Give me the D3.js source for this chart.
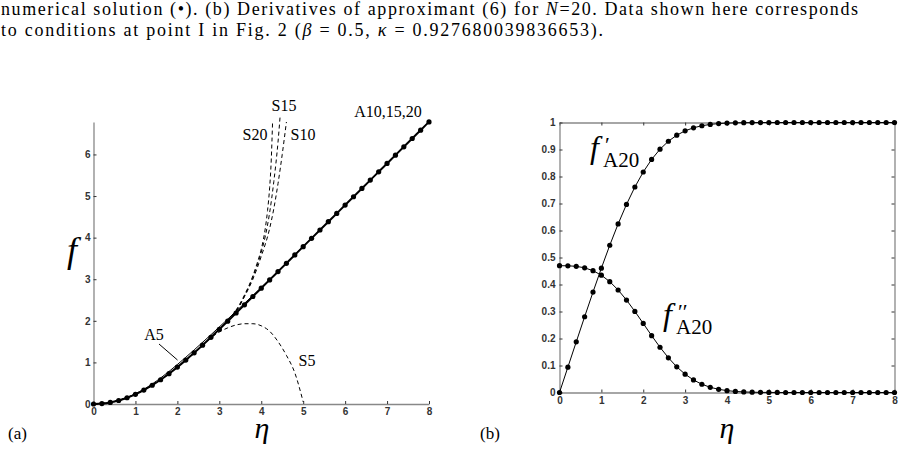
<!DOCTYPE html>
<html>
<head>
<meta charset="utf-8">
<script src="https://cdn.jsdelivr.net/npm/d3@7"></script>
<style>
body{margin:0;background:#fff}
svg{display:block}
.tick text{font-family:"Liberation Sans",Arial,sans-serif;font-weight:bold;font-size:10px;fill:#333}
.serif{font-family:"Liberation Serif","Times New Roman",serif;fill:#000}
</style>
</head>
<body>
<svg id="fig" width="904" height="454"></svg>
<script>
// numerical solution, eta = 0..8 step 0.2
let eta = [0,0.2,0.4,0.6,0.8,1,1.2,1.4,1.6,1.8,2,2.2,2.4,2.6,2.8,3,3.2,3.4,3.6,3.8,4,4.2,4.4,4.6,4.8,5,5.2,5.4,5.6,5.8,6,6.2,6.4,6.6,6.8,7,7.2,7.4,7.6,7.8,8]
let fNum = [0,0.0094,0.0375,0.0844,0.1497,0.233,0.3337,0.4507,0.583,0.7289,0.8868,1.055,1.2315,1.4148,1.6033,1.7956,1.9906,2.1875,2.3856,2.5845,2.7839,2.9834,3.1833,3.3832,3.5831,3.783,3.983,4.183,4.383,4.583,4.783,4.983,5.183,5.383,5.583,5.783,5.983,6.183,6.383,6.583,6.783]
let dfNum = [0,0.0939,0.1876,0.2806,0.372,0.4606,0.5453,0.6244,0.6967,0.7611,0.8167,0.8633,0.9011,0.9306,0.9529,0.9691,0.9804,0.988,0.9929,0.9959,0.9978,0.9988,0.9994,0.9997,0.9999,1,1,1,1,1,1,1,1,1,1,1,1,1,1,1,1]
let ddfNum = [0.4696,0.4693,0.4673,0.4617,0.4512,0.4344,0.4106,0.3797,0.3425,0.3004,0.2557,0.2106,0.1676,0.1286,0.0951,0.0677,0.0464,0.0305,0.0193,0.0118,0.0069,0.0039,0.0021,0.0011,0.0005,0.0003,0.0001,0,0,0,0,0,0,0,0,0,0,0,0,0,0]

// approximant A5
let a5Eta = [0,0.4,0.8,1.2,1.6,2,2.4,2.8,3.2,3.6,4,4.5,5,6,7,8]
let a5F = [0,0.04,0.16,0.355,0.625,0.95,1.3,1.665,2.04,2.42,2.8,3.3,3.79,4.785,5.785,6.785]

// series S5, S10, S15, S20
let s5Eta = [0,0.4,0.8,1.2,1.6,2,2.4,2.8,3,3.2,3.4,3.6,3.8,4,4.2,4.4,4.6,4.8,5]
let s5F = [0,0.037,0.149,0.333,0.58,0.88,1.215,1.59,1.73,1.83,1.9,1.93,1.93,1.88,1.75,1.5,1.17,0.75,0.05]
let s10Eta = [0,0.4,0.8,1.2,1.6,2,2.4,2.8,3,3.2,3.4,3.6,3.8,4,4.2,4.3,4.4,4.5,4.6]
let s10F = [0,0.0375,0.15,0.334,0.583,0.887,1.232,1.605,1.8,2.0,2.22,2.58,3.0,3.55,4.22,4.7,5.3,6.0,6.78]
let s15Eta = [0,0.4,0.8,1.2,1.6,2,2.4,2.8,3,3.2,3.4,3.6,3.8,4,4.1,4.2,4.3,4.4,4.45]
let s15F = [0,0.0375,0.15,0.334,0.583,0.887,1.232,1.605,1.8,2.01,2.24,2.6,3.05,3.65,4.05,4.6,5.35,6.3,6.92]
let s20Eta = [0,0.4,0.8,1.2,1.6,2,2.4,2.8,3,3.2,3.4,3.6,3.8,3.9,4,4.1,4.15,4.2,4.24,4.27]
let s20F = [0,0.0375,0.15,0.334,0.583,0.887,1.232,1.605,1.81,2.02,2.26,2.62,3.08,3.38,3.72,4.25,4.65,5.2,5.9,6.78]

let xTicks = [0,1,2,3,4,5,6,7,8]
let yTicksA = [0,1,2,3,4,5,6]
let yTicksB = [0,0.1,0.2,0.3,0.4,0.5,0.6,0.7,0.8,0.9,1]

let svg = d3.select('#fig')
svg.append('rect').attr('width',904).attr('height',454).attr('fill','#fff')

// caption
let cap1 = svg.append('text').attr('class','serif').attr('x',1).attr('y',15)
  .attr('font-size',18).attr('textLength',857).attr('lengthAdjust','spacing')
cap1.append('tspan').text('numerical solution (\u2022). (b) Derivatives of approximant (6) for ')
cap1.append('tspan').attr('font-style','italic').text('N')
cap1.append('tspan').text('=20. Data shown here corresponds')
let cap2 = svg.append('text').attr('class','serif').attr('x',1).attr('y',36)
  .attr('font-size',18).attr('textLength',602).attr('lengthAdjust','spacing')
cap2.append('tspan').text('to conditions at point I in Fig. 2 (')
cap2.append('tspan').attr('font-style','italic').text('\u03B2')
cap2.append('tspan').text(' = 0.5, ')
cap2.append('tspan').attr('font-style','italic').text('\u03BA')
cap2.append('tspan').text(' = 0.927680039836653).')

function styleAxis(g){
  g.select('.domain').attr('stroke','#888').attr('stroke-width',1.3)
  g.selectAll('.tick line').attr('stroke','#333').attr('stroke-width',1)
}

// ---------- (a)
let xA = d3.scaleLinear().domain([0,8]).range([93.5,429])
let yA = d3.scaleLinear().domain([0,6.78]).range([404,122])

let gA = svg.append('g')
gA.append('g').attr('transform','translate(0,404)')
  .call(d3.axisBottom(xA).tickValues(xTicks).tickSizeInner(-3).tickSizeOuter(0).tickPadding(4).tickFormat(d3.format('d')))
  .call(styleAxis)
gA.append('g').attr('transform','translate(93.5,0)')
  .call(d3.axisLeft(yA).tickValues(yTicksA).tickSizeInner(-3).tickSizeOuter(0).tickPadding(3).tickFormat(d3.format('d')))
  .call(styleAxis)

let lineA = (xs, ys) => d3.line().curve(d3.curveMonotoneX)
  .x((d,i) => xA(xs[i])).y((d,i) => yA(ys[i]))(xs)

let dashed = [[s5Eta,s5F],[s10Eta,s10F],[s15Eta,s15F],[s20Eta,s20F]]
dashed.forEach(s => {
  gA.append('path').attr('d', lineA(s[0], s[1]))
    .attr('fill','none').attr('stroke','#000').attr('stroke-width',1).attr('stroke-dasharray','4,3')
})
gA.append('path').attr('d', lineA(a5Eta, a5F))
  .attr('fill','none').attr('stroke','#000').attr('stroke-width',1)
gA.append('path').attr('d', lineA(eta, fNum))
  .attr('fill','none').attr('stroke','#000').attr('stroke-width',2)
gA.selectAll('.dot').data(eta).enter().append('circle')
  .attr('cx', d => xA(d)).attr('cy', (d,i) => yA(fNum[i])).attr('r',2.6).attr('fill','#000')

let labA = [
  ['S15',284,111],['S20',255,140],['S10',303,140],
  ['A10,15,20',388,117],['A5',154,340],['S5',307,366]
]
labA.forEach(l => {
  gA.append('text').attr('class','serif').attr('font-size',16)
    .attr('x',l[1]).attr('y',l[2]).attr('text-anchor','middle').text(l[0])
})
gA.append('line').attr('x1',159).attr('y1',344).attr('x2',177.5).attr('y2',360)
  .attr('stroke','#000').attr('stroke-width',1)

gA.append('text').attr('class','serif').attr('font-style','italic').attr('font-size',36)
  .attr('x',72).attr('y',262).attr('text-anchor','middle').text('f')
gA.append('text').attr('class','serif').attr('font-style','italic').attr('font-size',30)
  .attr('x',262).attr('y',438).attr('text-anchor','middle').text('\u03B7')
svg.append('text').attr('class','serif').attr('font-size',17).attr('x',8).attr('y',439).text('(a)')

// ---------- (b)
let xB = d3.scaleLinear().domain([0,8]).range([559.5,894.5])
let yB = d3.scaleLinear().domain([0,1]).range([392.5,122.5])

let gB = svg.append('g')
gB.append('g').attr('transform','translate(0,392.5)')
  .call(d3.axisBottom(xB).tickValues(xTicks).tickSizeInner(-3).tickSizeOuter(0).tickPadding(4).tickFormat(d3.format('d')))
  .call(styleAxis)
gB.append('g').attr('transform','translate(0,122.5)')
  .call(d3.axisTop(xB).tickValues(xTicks).tickSizeInner(-3).tickSizeOuter(0).tickFormat(''))
  .call(styleAxis)
gB.append('g').attr('transform','translate(559.5,0)')
  .call(d3.axisLeft(yB).tickValues(yTicksB).tickSizeInner(-3).tickSizeOuter(0).tickPadding(4).tickFormat(d => d3.format('')(+d.toFixed(1))))
  .call(styleAxis)
gB.append('g').attr('transform','translate(894.5,0)')
  .call(d3.axisRight(yB).tickValues(yTicksB).tickSizeInner(-3).tickSizeOuter(0).tickFormat(''))
  .call(styleAxis)

let lineB = ys => d3.line().x((d,i) => xB(eta[i])).y((d,i) => yB(ys[i]))(eta)
;[dfNum, ddfNum].forEach(ys => {
  gB.append('path').attr('d', lineB(ys)).attr('fill','none').attr('stroke','#000').attr('stroke-width',1)
  gB.selectAll(null).data(eta).enter().append('circle')
    .attr('cx', d => xB(d)).attr('cy', (d,i) => yB(ys[i])).attr('r',2.6).attr('fill','#000')
})

// f' / f'' labels: italic f, primes, upright subscript
function derivLabel(x, y, primes){
  gB.append('text').attr('class','serif').attr('font-style','italic').attr('font-size',32)
    .attr('x',x).attr('y',y).text('f')
  gB.append('text').attr('class','serif').attr('font-size',22)
    .attr('x',x+15).attr('y',y-6).text(primes)
  gB.append('text').attr('class','serif').attr('font-size',21)
    .attr('x',x+13).attr('y',y+9).text('A20')
}
derivLabel(590, 158, '\u2032')
derivLabel(663, 325, '\u2032\u2032')

gB.append('text').attr('class','serif').attr('font-style','italic').attr('font-size',30)
  .attr('x',727).attr('y',438).attr('text-anchor','middle').text('\u03B7')
svg.append('text').attr('class','serif').attr('font-size',17).attr('x',480).attr('y',439).text('(b)')
</script>
</body>
</html>
